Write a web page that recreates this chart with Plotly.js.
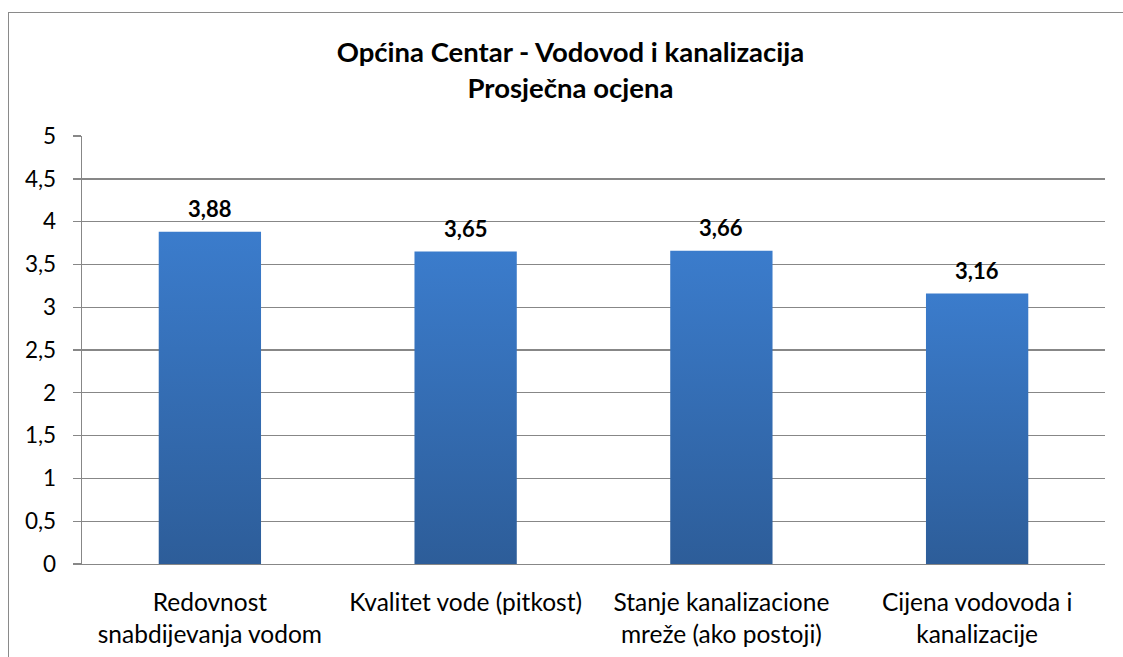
<!DOCTYPE html>
<html>
<head>
<meta charset="utf-8">
<script src="https://cdn.plot.ly/plotly-3.0.1.min.js"></script>
<style>
  html, body { margin: 0; padding: 0; background: #fff; overflow: hidden; }
  #chart { position: absolute; left: 0; top: 0; width: 1123px; height: 657px; }
  #frame { position: absolute; left: 8px; top: 12px; width: 2000px; height: 2000px;
           border: 1.5px solid #8a8a8a; pointer-events: none; background: transparent; }
</style>
</head>
<body>
<div id="chart"></div>
<div id="frame"></div>
<script>
const categories = [
  'Redovnost<br>snabdijevanja vodom',
  'Kvalitet vode (pitkost)',
  'Stanje kanalizacione<br>mreže (ako postoji)',
  'Cijena vodovoda i<br>kanalizacije'
];
const values = [3.88, 3.65, 3.66, 3.16];
const titleText = 'Općina Centar - Vodovod i kanalizacija<br>Prosječna ocjena';

const FONT = 'Lato, DejaVu Sans, sans-serif';
const GRAY = '#878787';

const trace = {
  type: 'bar',
  x: categories,
  y: values,
  width: 0.4,
  marker: { color: '#3370b8', line: { width: 0 } },
  hoverinfo: 'none'
};

const annotations = values.map((v, i) => ({
  x: categories[i],
  y: v,
  xref: 'x',
  yref: 'y',
  text: '<b>' + v.toFixed(2).replace('.', ',') + '</b>',
  showarrow: false,
  yanchor: 'bottom',
  yshift: 8,
  font: { family: FONT, size: 22, color: '#000' }
}));

const layout = {
  width: 1123,
  height: 657,
  margin: { l: 82, r: 18, t: 136, b: 93, pad: 0 },
  paper_bgcolor: '#fff',
  plot_bgcolor: '#fff',
  separators: ',.',
  showlegend: false,
  bargap: 0.6,
  title: {
    text: titleText,
    font: { family: FONT, size: 27.5, color: '#000', weight: 'bold' },
    xref: 'container', x: 0.508, xanchor: 'center',
    yref: 'container', y: 1 - 62 / 657, yanchor: 'top'
  },
  xaxis: {
    type: 'category',
    showline: true, linecolor: GRAY, linewidth: 1.4,
    ticks: '', showgrid: false, zeroline: false,
    tickfont: { family: FONT, size: 24.5, color: '#000' },
    ticklabelstandoff: 16
  },
  yaxis: {
    range: [0, 5], tick0: 0, dtick: 0.5,
    showline: true, linecolor: GRAY, linewidth: 1.4,
    showgrid: true, gridcolor: GRAY, gridwidth: 1.4,
    zeroline: false,
    ticks: 'outside', ticklen: 8, tickcolor: GRAY, tickwidth: 1.4,
    tickfont: { family: FONT, size: 22.5, color: '#000' },
    ticklabelstandoff: 12
  },
  annotations: annotations
};

Plotly.newPlot('chart', [trace], layout, { staticPlot: true }).then(gd => {
  const svg = gd.querySelector('svg.main-svg');
  const ns = 'http://www.w3.org/2000/svg';
  let defs = svg.querySelector('defs');
  if (!defs) { defs = document.createElementNS(ns, 'defs'); svg.insertBefore(defs, svg.firstChild); }
  const grad = document.createElementNS(ns, 'linearGradient');
  grad.setAttribute('id', 'barGrad');
  grad.setAttribute('x1', '0'); grad.setAttribute('y1', '0');
  grad.setAttribute('x2', '0'); grad.setAttribute('y2', '1');
  [['0', '#3b7ccc'], ['1', '#2d5d99']].forEach(([o, c]) => {
    const s = document.createElementNS(ns, 'stop');
    s.setAttribute('offset', o); s.setAttribute('stop-color', c);
    grad.appendChild(s);
  });
  defs.appendChild(grad);
  gd.querySelectorAll('.trace.bars .point path').forEach(p => { p.style.fill = 'url(#barGrad)'; });
});
</script>
</body>
</html>
